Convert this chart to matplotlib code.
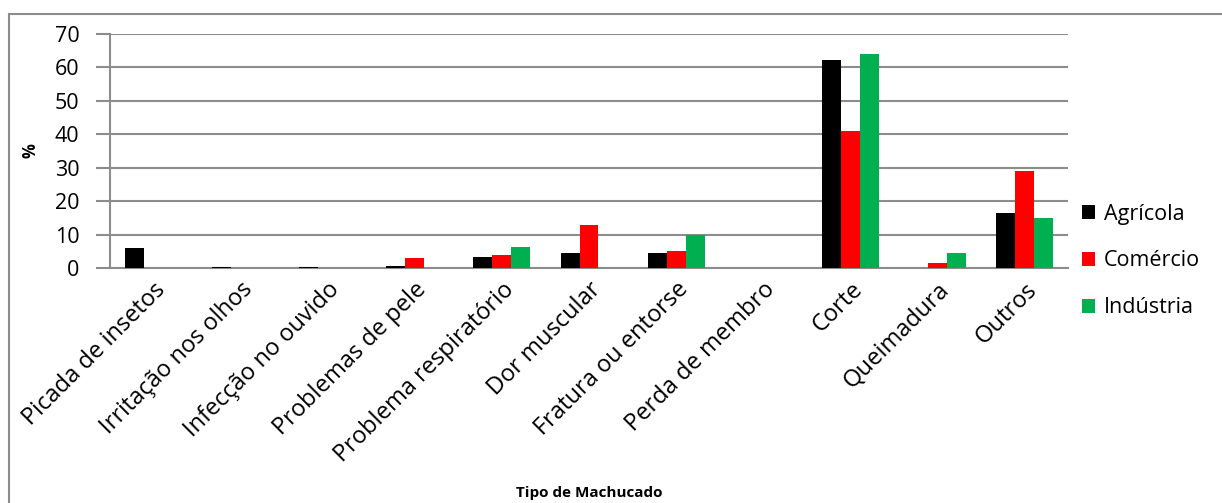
import matplotlib.pyplot as plt
import numpy as np
from matplotlib.patches import Rectangle

categories = ['Picada de insetos', 'Irritação nos olhos', 'Infecção no ouvido',
              'Problemas de pele', 'Problema respiratório', 'Dor muscular',
              'Fratura ou entorse', 'Perda de membro', 'Corte', 'Queimadura', 'Outros']
agricola = [6.1, 0.2, 0.4, 0.6, 3.4, 4.6, 4.6, 0.0, 62.3, 0.0, 16.4]
comercio = [0.0, 0.0, 0.0, 3.1, 3.9, 12.9, 5.2, 0.0, 41.0, 1.4, 29.0]
industria = [0.0, 0.0, 0.0, 0.0, 6.3, 0.0, 9.9, 0.0, 63.9, 4.6, 14.9]
series = [('Agrícola', agricola, '#000000'),
          ('Comércio', comercio, '#FF0000'),
          ('Indústria', industria, '#00B050')]

plt.rcParams['font.family'] = ['Open Sans', 'DejaVu Sans']

W, H = 1222, 503
fig = plt.figure(figsize=(W / 100, H / 100), dpi=100)
ax = fig.add_axes([110 / W, 1 - 268 / H, (1068 - 110) / W, (268 - 34) / H])

x = np.arange(len(categories))
bw = 0.218
for i, (name, vals, col) in enumerate(series):
    ax.bar(x + (i - 1) * bw, vals, bw, color=col, label=name, zorder=3)

grid = '#8c8c8c'
ax.set_ylim(0, 70)
ax.set_xlim(-0.5, len(categories) - 0.5)
ax.set_yticks(range(0, 71, 10))
ax.yaxis.grid(True, color=grid, linewidth=1.5, zorder=0)
ax.tick_params(axis='y', length=10, width=1.5, color=grid, labelsize=15.5, pad=12)
ax.tick_params(axis='x', length=0, labelsize=17, pad=7)
ax.set_xticks(x)
ax.set_xticklabels(categories, rotation=45, ha='right', rotation_mode='anchor')
for s in ['top', 'right']:
    ax.spines[s].set_visible(False)
for s in ['left', 'bottom']:
    ax.spines[s].set_color(grid)
    ax.spines[s].set_linewidth(1.5)

ax.set_ylabel('%', fontsize=12, fontweight='bold')
ax.yaxis.set_label_coords((40 - 110) / (1068 - 110), 0.5)
fig.text(589 / W, 1 - 493 / H, 'Tipo de Machucado', fontsize=11, fontweight='bold',
         ha='center', va='center')

ax.legend(loc='center left', bbox_to_anchor=(1063 / W, 1 - 261 / H),
          bbox_transform=fig.transFigure, frameon=False, fontsize=15.5,
          handlelength=0.6, handleheight=0.6, handletextpad=0.4, labelspacing=1.2)

fig.patches.append(Rectangle((9 / W, -0.1), 1.2, 1 - 14 / H + 0.1, transform=fig.transFigure,
                             fill=False, edgecolor=grid, linewidth=1.5, zorder=0))

fig.savefig('out.png', dpi=100)
